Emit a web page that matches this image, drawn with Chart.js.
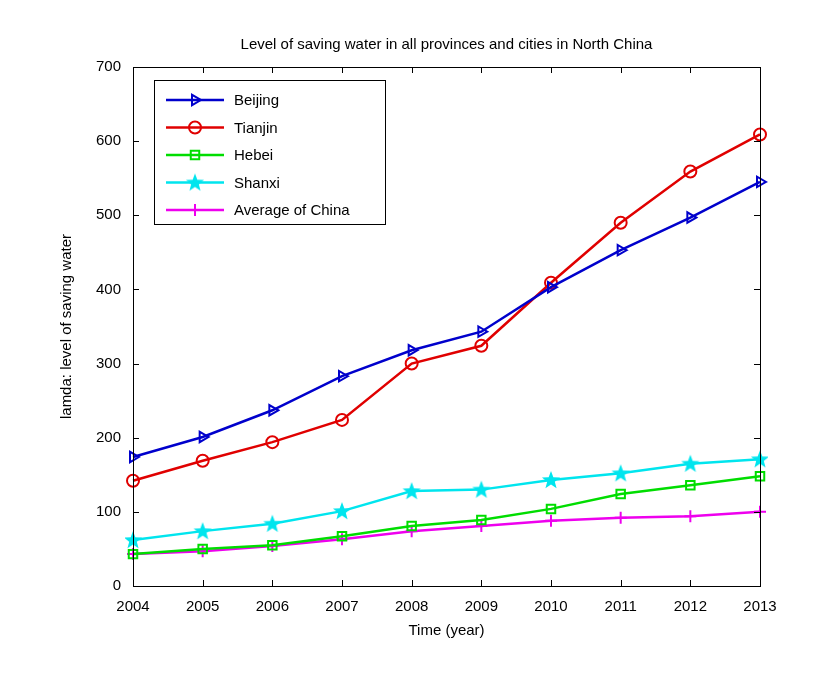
<!DOCTYPE html>
<html><head><script src="https://cdn.jsdelivr.net/npm/chart.js@4/dist/chart.umd.min.js"></script>
<style>body{margin:0;background:#fff}</style></head>
<body><canvas id="c" width="832" height="694"></canvas>
<script>
const years=['2004','2005','2006','2007','2008','2009','2010','2011','2012','2013'];
const beijing=[174,201,237,283,318,343,403,453,497,545];
const tianjin=[142,169,194,224,300,324,409,490,559,609];
const hebei=[43,50,55,67,81,89,104,124,136,148];
const shanxi=[62,74,84,101,128,130,143,152,165,171];
const avgChina=[43,47,54,63,74,81,88,92,94,100];
const yTicks=[0,100,200,300,400,500,600,700];
const F='"Liberation Sans", Arial, sans-serif';
const star=document.createElement('canvas');star.width=20;star.height=20;
(function(){const c=star.getContext('2d');c.fillStyle='#00e5ee';c.beginPath();for(let i=0;i<10;i++){const r=i%2?4:9.5,a=-Math.PI/2+i*Math.PI/5;c.lineTo(10+r*Math.cos(a),10.5+r*Math.sin(a));}c.closePath();c.fill();})();
function ds(label,data,color,style,rot){return{label,data,borderColor:color,backgroundColor:'rgba(0,0,0,0)',pointBorderColor:color,pointBackgroundColor:'rgba(0,0,0,0)',pointStyle:style,pointRotation:rot,pointRadius:6,pointBorderWidth:2,borderWidth:2.5,tension:0};}
const deco={id:'deco',afterDraw(ch){const c=ch.ctx,a=ch.chartArea;c.save();
c.strokeStyle='#000';c.lineWidth=1;c.strokeRect(a.left+.5,a.top+.5,a.right-a.left,a.bottom-a.top);
const xs=ch.scales.x,ys=ch.scales.y;
years.forEach((y,i)=>{const px=Math.round(xs.getPixelForValue(i))+.5;c.beginPath();c.moveTo(px,a.bottom);c.lineTo(px,a.bottom-6);c.moveTo(px,a.top);c.lineTo(px,a.top+6);c.stroke();});
yTicks.forEach(v=>{const py=Math.round(ys.getPixelForValue(v))+.5;c.beginPath();c.moveTo(a.left,py);c.lineTo(a.left+6,py);c.moveTo(a.right,py);c.lineTo(a.right-6,py);c.stroke();});
c.fillStyle='#000';c.font='15px '+F;c.textAlign='center';c.textBaseline='middle';c.fillText('Level of saving water in all provinces and cities in North China',(a.left+a.right)/2,45);
const lx=154,ly=80,lw=231,lh=144;c.fillStyle='#fff';c.fillRect(lx,ly,lw,lh);c.strokeStyle='#000';c.lineWidth=1;c.strokeRect(lx+.5,ly+.5,lw,lh);
ch.data.datasets.forEach((d,i)=>{const y=ly+20+i*27.5;c.strokeStyle=d.borderColor;c.lineWidth=2.5;c.beginPath();c.moveTo(lx+12,y);c.lineTo(lx+70,y);c.stroke();
c.fillStyle='rgba(0,0,0,0)';c.lineWidth=2;
Chart.helpers.drawPoint(c,{pointStyle:d.pointStyle,rotation:d.pointRotation,radius:d.pointRadius,borderWidth:2},lx+41,y);
c.fillStyle='#000';c.font='15px '+F;c.textAlign='left';c.fillText(d.label,lx+80,y+1);});
c.restore();}};
new Chart(document.getElementById('c'),{type:'line',data:{labels:years,datasets:[
ds('Beijing',beijing,'#0000cc','triangle',90),
ds('Tianjin',tianjin,'#e00000','circle',0),
ds('Hebei',hebei,'#00dd00','rect',0),
ds('Shanxi',shanxi,'#00e5ee',star,0),
ds('Average of China',avgChina,'#ee00ee','cross',0)]},
options:{responsive:false,animation:false,layout:{padding:{left:58,top:67,right:72,bottom:52}},
plugins:{legend:{display:false},tooltip:{enabled:false}},
scales:{x:{offset:false,grid:{display:false},border:{display:false},ticks:{color:'#000',font:{family:F,size:15},padding:4,maxRotation:0},title:{display:true,text:'Time (year)',color:'#000',font:{family:F,size:15},padding:2},afterFit(s){s.height=56;}},
y:{min:0,max:700,grid:{display:false},border:{display:false},afterBuildTicks(s){s.ticks=yTicks.map(v=>({value:v}));},ticks:{color:'#000',font:{family:F,size:15},padding:4},title:{display:true,text:'lamda: level of saving water',color:'#000',font:{family:F,size:15},padding:0},afterFit(s){s.width=75;}}}},
plugins:[deco]});
</script></body></html>
